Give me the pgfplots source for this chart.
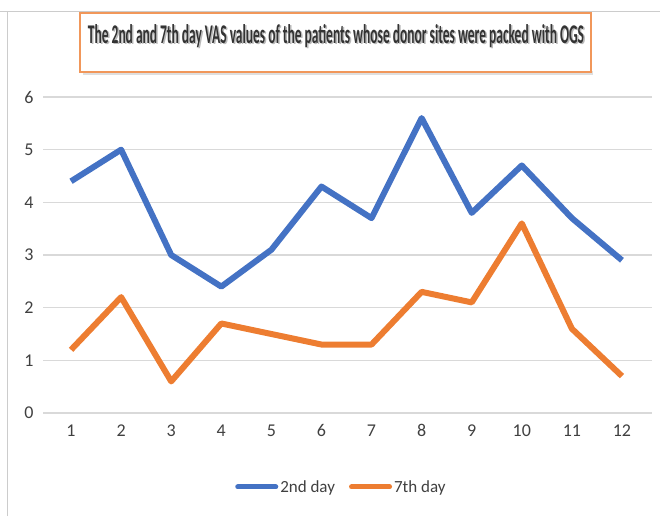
\documentclass[border=0pt]{standalone}
\usepackage{fontspec}
\setmainfont{Carlito}
\usepackage{graphicx}
\usepackage{pgfplots}
\pgfplotsset{compat=1.18}
\definecolor{xblue}{HTML}{4472C4}
\definecolor{xorange}{HTML}{ED7D31}
\definecolor{xgrid}{HTML}{D9D9D9}
\begin{document}
\begin{tikzpicture}[x=1pt,y=1pt]
\begin{axis}[
  at={(43pt,103pt)}, anchor=south west,
  scale only axis, width=609pt, height=316pt,
  xmin=0.44, xmax=12.6, ymin=0, ymax=6,
  xtick={1,...,12}, ytick={0,...,6},
  axis line style={draw=none}, tick style={draw=none},
  ymajorgrids, grid style={xgrid, line width=1.3pt},
  ticklabel style={font=\fontsize{18}{20}\selectfont, text=black!75},
  /pgf/number format/assume math mode=true,
  yticklabel style={xshift=-6pt},
  xticklabel style={yshift=-8pt},
  legend columns=2,
  legend style={draw=none, at={(0.49,-0.234)}, anchor=center,
    font=\fontsize{17}{19}\selectfont, text=black!75,
    /tikz/every even column/.append style={column sep=12pt}},
  legend image code/.code={\draw[#1, line width=5pt, line cap=round] (0pt,0pt) -- (38pt,0pt);},
]
\addplot[xblue, line width=6pt, line join=round] coordinates {
(1,4.4) (2,5.0) (3,3.0) (4,2.4) (5,3.1) (6,4.3) (7,3.7) (8,5.6) (9,3.8) (10,4.7) (11,3.7) (12,2.9)};
\addlegendentry{2nd day}
\addplot[xorange, line width=6pt, line join=round] coordinates {
(1,1.2) (2,2.2) (3,0.6) (4,1.7) (5,1.5) (6,1.3) (7,1.3) (8,2.3) (9,2.1) (10,3.6) (11,1.6) (12,0.7)};
\addlegendentry{7th day}
\end{axis}
% frame lines
\draw[gray!40, line width=1pt] (0,504) -- (660,504);
\draw[gray!40, line width=1pt] (7,0) -- (7,504);
% title box shadow
\fill[gray!25] (83,441) rectangle (593,445);
\fill[white] (80,444) rectangle (591,503);
\draw[xorange!80, line width=1.3pt] (80,444) rectangle (591,503);
\node[text=gray!55] at (337.5,478.5) {\resizebox{496pt}{19pt}{\bfseries The 2nd and 7th day VAS values of the patients whose donor sites were packed with OGS}};
\node[text=black!80] at (336,480) {\resizebox{496pt}{19pt}{\bfseries The 2nd and 7th day VAS values of the patients whose donor sites were packed with OGS}};
\pgfresetboundingbox
\useasboundingbox (0,0) rectangle (660,516);
\end{tikzpicture}
\end{document}
